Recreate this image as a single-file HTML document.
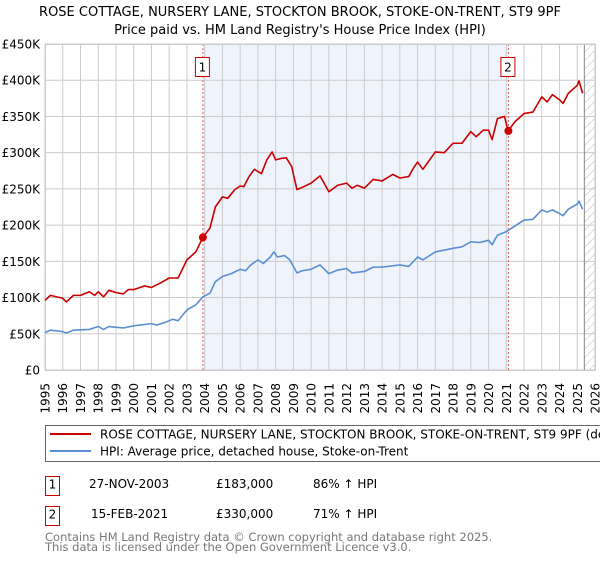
<!DOCTYPE html>
<html><head><meta charset="utf-8"><style>
body{margin:0;background:#fff;}
svg text{font-family:"DejaVu Sans","Liberation Sans",sans-serif;}
</style></head><body>
<svg id="chart" width="600" height="560" viewBox="0 0 600 560" xmlns="http://www.w3.org/2000/svg">
<defs><pattern id="hatch" width="6" height="6" patternUnits="userSpaceOnUse" patternTransform="rotate(45)"><line x1="0" y1="0" x2="0" y2="6" stroke="#bbb" stroke-width="1"/></pattern></defs>
<text x="300" y="16" text-anchor="middle" font-size="13" fill="#000">ROSE COTTAGE, NURSERY LANE, STOCKTON BROOK, STOKE-ON-TRENT, ST9 9PF</text>
<text x="300" y="34" text-anchor="middle" font-size="13" fill="#000">Price paid vs. HM Land Registry's House Price Index (HPI)</text>
<g id="plot"></g>
<g>
<rect x="45.5" y="425.5" width="570" height="36" fill="#fff" stroke="#666"/>
<line x1="50" y1="434" x2="91" y2="434" stroke="#cc0000" stroke-width="2"/>
<text x="100" y="438.5" font-size="12">ROSE COTTAGE, NURSERY LANE, STOCKTON BROOK, STOKE-ON-TRENT, ST9 9PF (detached house)</text>
<line x1="50" y1="451" x2="91" y2="451" stroke="#5b8fd1" stroke-width="2"/>
<text x="100" y="455.5" font-size="12">HPI: Average price, detached house, Stoke-on-Trent</text>
</g>
<g>
<rect x="45.5" y="476.5" width="14" height="19" fill="#fff" stroke="#cc0000"/>
<text x="52.5" y="488.5" font-size="12" text-anchor="middle">1</text>
<text x="89" y="488" font-size="12">27-NOV-2003</text>
<text x="216" y="488" font-size="12">£183,000</text>
<text x="313" y="488" font-size="12">86% ↑ HPI</text>
</g>
<g>
<rect x="45.5" y="506.5" width="14" height="19" fill="#fff" stroke="#cc0000"/>
<text x="52.5" y="518.5" font-size="12" text-anchor="middle">2</text>
<text x="91" y="518" font-size="12">15-FEB-2021</text>
<text x="216" y="518" font-size="12">£330,000</text>
<text x="313" y="518" font-size="12">71% ↑ HPI</text>
</g>
<text x="45" y="541" font-size="11.5" fill="#777">Contains HM Land Registry data © Crown copyright and database right 2025.</text>
<text x="45" y="551" font-size="11.5" fill="#777">This data is licensed under the Open Government Licence v3.0.</text>
</svg>
<script>
const hpiYears=[1995,1995.3,1996,1996.2,1996.6,1997.5,1998,1998.3,1998.6,1999.4,2000,2001,2001.3,2001.8,2002.2,2002.5,2003,2003.5,2003.9,2004.3,2004.6,2005,2005.5,2006,2006.3,2006.6,2007,2007.3,2007.7,2007.9,2008.1,2008.5,2008.8,2009.2,2009.5,2010,2010.5,2011,2011.5,2012,2012.3,2013,2013.5,2014,2015,2015.5,2016,2016.3,2017,2018,2018.5,2019,2019.5,2020,2020.2,2020.5,2021,2022,2022.5,2023,2023.3,2023.6,2024,2024.2,2024.5,2025,2025.1,2025.3];
const hpiValues=[51.5,55,53,51,55,56,60,56,60,58,61,64,62,66,70,68,83,90,101,106,122,129,133,139,137,145,152,147,156,163,156,158,152,134,137,139,145,133,138,140,134,136,142,142,145,143,156,152,163,168,170,177,176,179,173,186,191,207,208,221,218,221,216,213,222,229,233,222];
const propYears=[1995,1995.3,1996,1996.2,1996.6,1997,1997.5,1997.8,1998,1998.3,1998.6,1999,1999.4,1999.7,2000,2000.6,2001,2001.5,2002,2002.5,2003,2003.5,2003.9,2004.3,2004.6,2005,2005.3,2005.7,2006,2006.2,2006.5,2006.8,2007.2,2007.5,2007.8,2008,2008.3,2008.6,2008.9,2009.2,2009.4,2010,2010.5,2011,2011.5,2012,2012.3,2012.6,2013,2013.5,2014,2014.6,2015,2015.5,2015.8,2016,2016.3,2017,2017.5,2018,2018.5,2019,2019.3,2019.7,2020,2020.2,2020.5,2020.9,2021.1,2021.5,2022,2022.5,2023,2023.3,2023.6,2024,2024.2,2024.5,2025,2025.1,2025.3];
const propValues=[96,103,99,94,103,103,108,103,108,101,110,107,105,111,111,116,114,120,127,127,152,163,183,196,225,239,237,249,254,253,267,277,271,290,301,290,292,293,281,249,251,258,268,246,255,258,251,255,251,263,261,270,265,267,280,287,277,301,300,313,313,329,322,331,331,318,347,350,330,343,354,356,377,370,380,373,368,382,393,399,382];
const saleYears=[2003.9,2021.12];
const saleValues=[183,330];
const saleLabels=["1","2"];
const yTicks=[0,50,100,150,200,250,300,350,400,450];
const yTickLabels=["£0","£50K","£100K","£150K","£200K","£250K","£300K","£350K","£400K","£450K"];
const xTicks=[1995,1996,1997,1998,1999,2000,2001,2002,2003,2004,2005,2006,2007,2008,2009,2010,2011,2012,2013,2014,2015,2016,2017,2018,2019,2020,2021,2022,2023,2024,2025,2026];
const dataEnd=2025.4;

const L=45,R=595,T=44,B=370,X0=1995,X1=2026,YMAX=450;
const xs=v=>L+(v-X0)/(X1-X0)*(R-L);
const ys=v=>B-v/YMAX*(B-T);
const NS="http://www.w3.org/2000/svg";
const g=document.getElementById('plot');
function mk(tag,attrs){const e=document.createElementNS(NS,tag);for(const k in attrs)e.setAttribute(k,attrs[k]);g.appendChild(e);return e;}

let e=mk('rect',{x:xs(saleYears[0]),y:T,width:xs(saleYears[1])-xs(saleYears[0]),height:B-T,fill:'#eef3fc'});


e=mk('rect',{x:xs(dataEnd),y:T,width:R-xs(dataEnd),height:B-T,fill:'url(#hatch)'});


xTicks.forEach(t=>{
 const l=mk('line',{x1:xs(t),x2:xs(t),y1:T,y2:B,stroke:'#ccc','stroke-width':1});
 
 
 const tx=mk('text',{x:0,y:0,'font-size':12,'text-anchor':'end',transform:`translate(${xs(t)+4.5},383) rotate(-90)`});
 tx.textContent=t;
 
 
});
yTicks.forEach((t,i)=>{
 const l=mk('line',{x1:L,x2:R,y1:ys(t),y2:ys(t),stroke:'#ccc','stroke-width':1});
 
 
 const tx=mk('text',{x:40,y:ys(t)+4.5,'font-size':12,'text-anchor':'end'});
 tx.textContent=yTickLabels[i];
 
 
});
e=mk('line',{x1:xs(dataEnd),x2:xs(dataEnd),y1:T,y2:B,stroke:'#888','stroke-width':1});


saleYears.forEach((y,i)=>{
 const l=mk('line',{x1:xs(y),x2:xs(y),y1:T,y2:B,stroke:'#e06060','stroke-width':1,'stroke-dasharray':'2,2'});
 
 
 const r=mk('rect',{x:xs(y)-7.5,y:57.5,width:14,height:19,fill:'#fff',stroke:'#cc0000'});
 
 
 const tx=mk('text',{x:xs(y)-0.5,y:71.5,'font-size':12,'text-anchor':'middle'});
 tx.textContent=saleLabels[i];
 
 
});
e=mk('rect',{x:L+0.5,y:T+0.5,width:R-L,height:B-T,fill:'none',stroke:'#ccc'});


e=mk('polyline',{points:hpiYears.map((y,i)=>xs(y)+','+ys(hpiValues[i])).join(' '),fill:'none',stroke:'#5b8fd1','stroke-width':1.6,'stroke-linejoin':'round'});


e=mk('polyline',{points:propYears.map((y,i)=>xs(y)+','+ys(propValues[i])).join(' '),fill:'none',stroke:'#cc0000','stroke-width':1.6,'stroke-linejoin':'round'});


saleYears.forEach((y,i)=>{
 const c=mk('circle',{cx:xs(y),cy:ys(saleValues[i]),r:4,fill:'#cc0000'});
 
 
});
</script>
</body></html>
